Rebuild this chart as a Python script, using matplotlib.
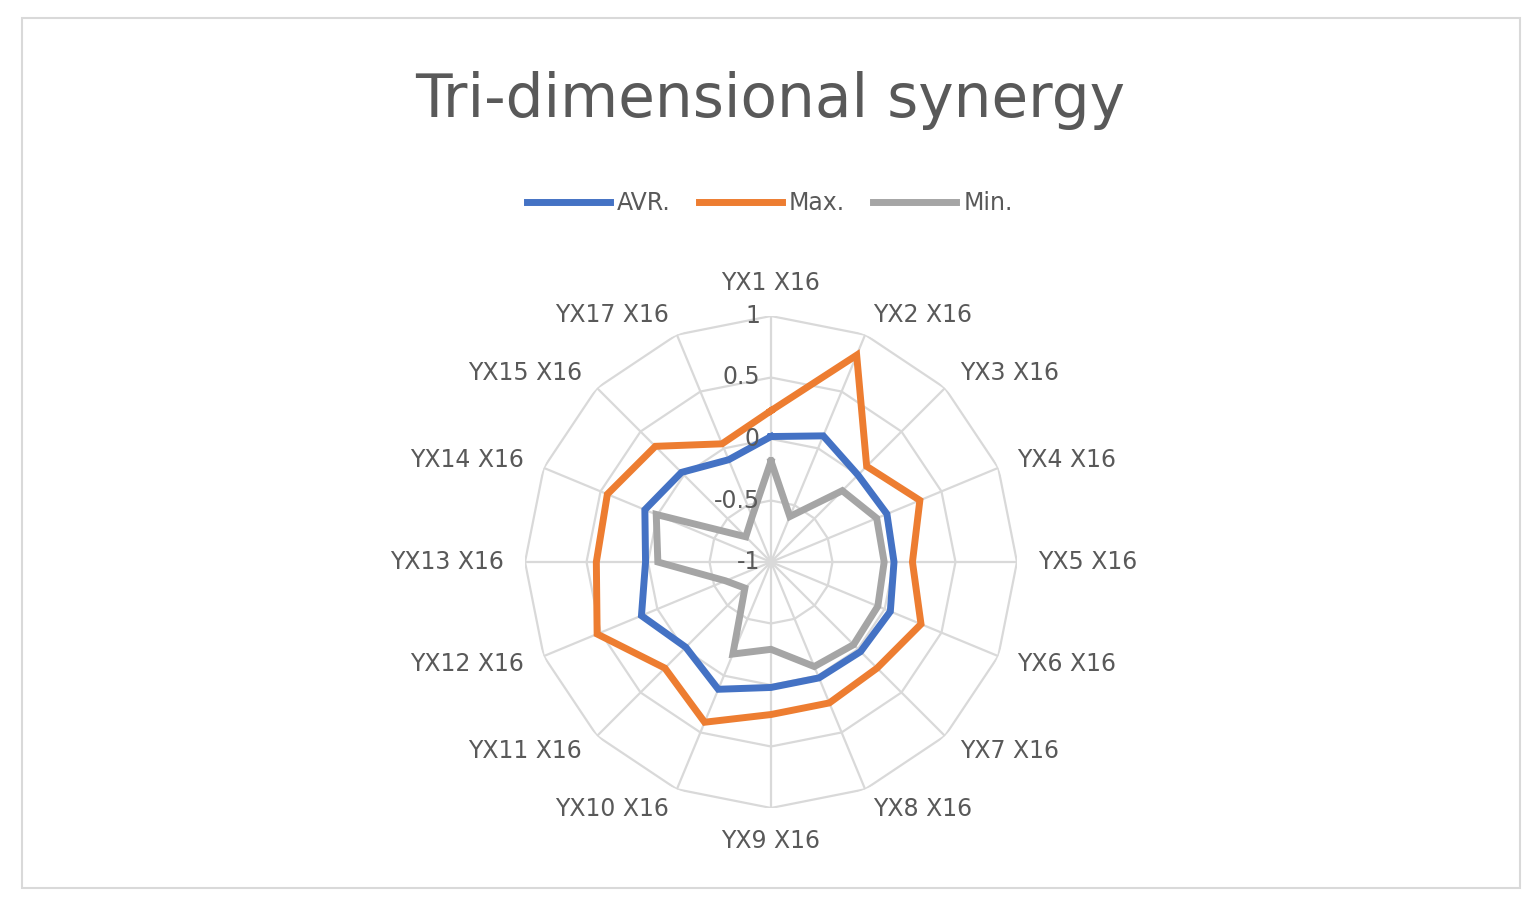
import numpy as np
import matplotlib
matplotlib.use("Agg")
import matplotlib.pyplot as plt
from matplotlib.patches import Rectangle

categories = ["YX1 X16","YX2 X16","YX3 X16","YX4 X16","YX5 X16","YX6 X16","YX7 X16","YX8 X16",
              "YX9 X16","YX10 X16","YX11 X16","YX12 X16","YX13 X16","YX14 X16","YX15 X16","YX17 X16"]
avr = [0.02,0.11,0.0,0.02,0.0,0.05,0.03,0.02,0.02,0.12,-0.02,0.14,0.02,0.11,0.03,-0.1]
mx  = [0.23,0.82,0.1,0.31,0.15,0.32,0.22,0.24,0.24,0.41,0.22,0.53,0.42,0.44,0.33,0.04]
mn  = [-0.18,-0.6,-0.18,-0.07,-0.08,-0.06,-0.05,-0.08,-0.29,-0.19,-0.7,-0.6,-0.08,0.01,-0.71,-0.6]
ticks = [-1,-0.5,0,0.5,1]
tick_labels = ["-1","-0.5","0","0.5","1"]

txt = "#595959"
fig = plt.figure(figsize=(15.4,9.06), dpi=100)
fig.patches.append(Rectangle((22/1540, 18/906), 1498/1540, 870/906, transform=fig.transFigure,
                             fill=False, edgecolor="#D9D9D9", lw=1.5))
fig.text(0.5, 1-100/906, "Tri-dimensional synergy", ha="center", va="center", fontsize=43, color=txt)

ax = fig.add_axes([(771-246)/1540, 98/906, 492/1540, 492/906], projection="polar")
ax.set_theta_zero_location("N")
ax.set_theta_direction(-1)
ax.set_ylim(-1, 1)
ax.set_frame_on(False)
ax.set_xticks([]); ax.set_yticks([])
ax.grid(False)
n = len(categories)
ang = np.linspace(0, 2*np.pi, n, endpoint=False)
angc = np.append(ang, ang[0])
for t in ticks[1:]:
    ax.plot(angc, [t]*(n+1), color="#D9D9D9", lw=1.6, zorder=1)
for a in ang:
    ax.plot([a, a], [-1, 1], color="#D9D9D9", lw=1.6, zorder=1)
for t, lab in zip(ticks, tick_labels):
    ax.annotate(lab, xy=(0, t), xytext=(-8, 0), textcoords="offset points",
                ha="right", va="center", fontsize=17, color=txt, zorder=5)
for vals, c, name in [(avr, "#4472C4", "AVR."), (mx, "#ED7D31", "Max."), (mn, "#A5A5A5", "Min.")]:
    ax.plot(angc, list(vals)+[vals[0]], color=c, lw=5, label=name, zorder=3, solid_joinstyle="miter")
for a, lab in zip(ang, categories):
    s, c = np.sin(a), np.cos(a)
    ha = "center" if abs(s) < 0.1 else ("left" if s > 0 else "right")
    va = "center" if abs(c) < 0.1 else ("bottom" if c > 0 else "top")
    if abs(s) >= 0.1 and abs(c) >= 0.1:
        va = "center"
    ax.text(a, 1.17, lab, ha=ha, va=va, fontsize=17, color=txt)
fig.legend(loc="center", bbox_to_anchor=(0.5, 1-203/906), ncol=3, frameon=False,
           fontsize=17, labelcolor=txt, handlelength=3.5, columnspacing=1.2, handletextpad=0.3)
fig.savefig("out.png", dpi=100)
